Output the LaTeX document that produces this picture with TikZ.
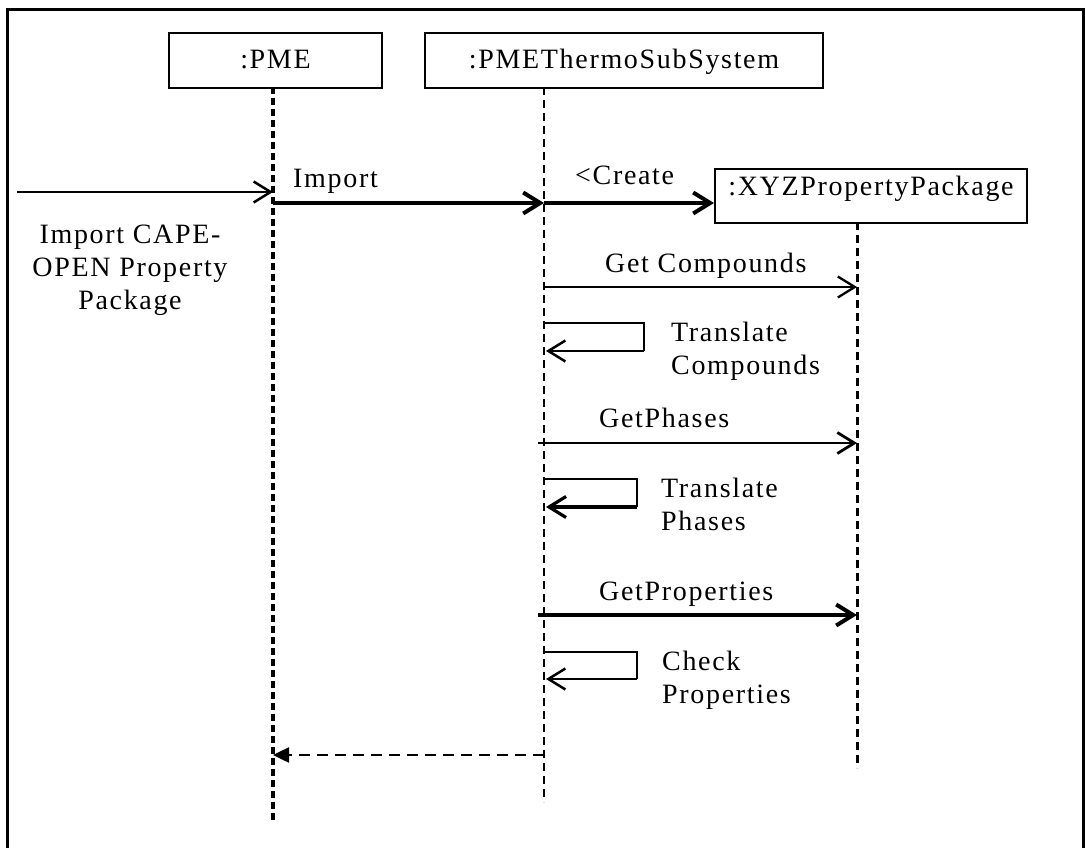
\documentclass[tikz,border=0pt]{standalone}
\usepackage{fontspec}
\newfontfamily\diagfont[LetterSpace=6]{Liberation Serif}
\usetikzlibrary{arrows.meta}
\begin{document}
\begin{tikzpicture}[x=1pt,y=-1pt,
  font=\diagfont\fontsize{28}{33}\selectfont,
  objbox/.style={draw,line width=2pt,inner sep=0pt,anchor=north west,align=center},
  pmelife/.style={line width=3.5pt,dash pattern=on 7pt off 4pt},
  life/.style={line width=2.7pt,dash pattern=on 8pt off 5pt},
  barb/.style={-{Straight Barb[length=17pt,width=21pt]}},
  lightmsg/.style={barb,line width=2.3pt},
  heavymsg/.style={barb,line width=4pt},
  loopline/.style={line width=1.5pt},
  loopback/.style={barb,line width=2.5pt},
  retmsg/.style={line width=2.5pt,dash pattern=on 11pt off 7pt,-{Triangle[length=16pt,width=15pt]}},
  lbl/.style={inner sep=0pt,anchor=base west,align=left}]
\useasboundingbox (0,0) rectangle (1085,848);
% outer frame
\draw[line width=3pt] (7,10) rectangle (1083,880);

% objects
\node[objbox,minimum width=213pt,text height=36pt,text depth=19pt] (pme) at (168,32) {:PME};
\node[objbox,minimum width=398pt,text height=36pt,text depth=19pt] (pts) at (424,32) {:PMEThermoSubSystem};
\node[objbox,minimum width=312pt,text height=27pt,text depth=27pt] (xyz) at (714,168) {:XYZPropertyPackage};

% lifelines
\coordinate (pmeTop) at (273,87);   \coordinate (pmeBot) at (273,823);
\coordinate (ptsTop) at (544,87);   \coordinate (ptsBot) at (544,802);
\coordinate (xyzTop) at (857,222);  \coordinate (xyzBot) at (857,768);
\draw[pmelife] (pmeTop) -- (pmeBot);
\draw[life] (ptsTop) -- (ptsBot);
\draw[life,line width=3pt] (xyzTop) -- (xyzBot);

% message end points
\coordinate (src)  at (17,192);   \coordinate (pmeIn) at (273,192);
\coordinate (pmeA) at (273,203);  \coordinate (ptsA)  at (544,203);
\coordinate (ptsC) at (543,287);  \coordinate (xyzC)  at (857,287);
\coordinate (ptsP) at (538,443);  \coordinate (xyzP)  at (857,443);
\coordinate (ptsR) at (538,615);  \coordinate (xyzR)  at (857,615);
\coordinate (ptsRet) at (544,755); \coordinate (pmeRet) at (273,755);

% messages
\draw[lightmsg,line width=2.5pt] (src) -- (pmeIn);
\draw[heavymsg] (pmeA) -- (ptsA);
\draw[heavymsg] (ptsA) -- (xyz.west |- ptsA);
\draw[lightmsg] (ptsC) -- (xyzC);
\draw[lightmsg,line width=2.8pt] (ptsP) -- (xyzP);
\draw[heavymsg] (ptsR) -- (xyzR);

% self calls
\coordinate (tc1) at (544,323); \coordinate (tc2) at (644,323);
\coordinate (tc3) at (644,351); \coordinate (tc4) at (546,351);
\draw[loopline] (tc1) -- (tc2) -- (tc3);
\draw[loopback] (tc3) -- (tc4);
\coordinate (tp1) at (544,479); \coordinate (tp2) at (637,479);
\coordinate (tp3) at (637,507); \coordinate (tp4) at (546,507);
\draw[loopline] (tp1) -- (tp2) -- (tp3);
\draw[loopback,line width=3.2pt] (tp3) -- (tp4);
\coordinate (cp1) at (544,652); \coordinate (cp2) at (637,652);
\coordinate (cp3) at (637,679); \coordinate (cp4) at (546,679);
\draw[loopline] (cp1) -- (cp2) -- (cp3);
\draw[loopback] (cp3) -- (cp4);

% return
\draw[retmsg] (ptsRet) -- (pmeRet);

% labels (multi-line nodes sit on the baseline of their last line)
\node[inner sep=0pt,anchor=base,align=center] (lImportCO) at (130,309) {Import CAPE-\\OPEN Property\\Package};
\node[lbl] (lImport) at (293,187) {Import};
\node[lbl] (lCreate) at (575,185) {<Create};
\node[lbl] (lGetC) at (605,272) {Get Compounds};
\node[lbl] (lTrC) at (671,374) {Translate\\Compounds};
\node[lbl] (lGetP) at (599,427) {GetPhases};
\node[lbl] (lTrP) at (661,530) {Translate\\Phases};
\node[lbl] (lGetR) at (599,600) {GetProperties};
\node[lbl] (lChk) at (662,703) {Check\\Properties};
\end{tikzpicture}
\end{document}
